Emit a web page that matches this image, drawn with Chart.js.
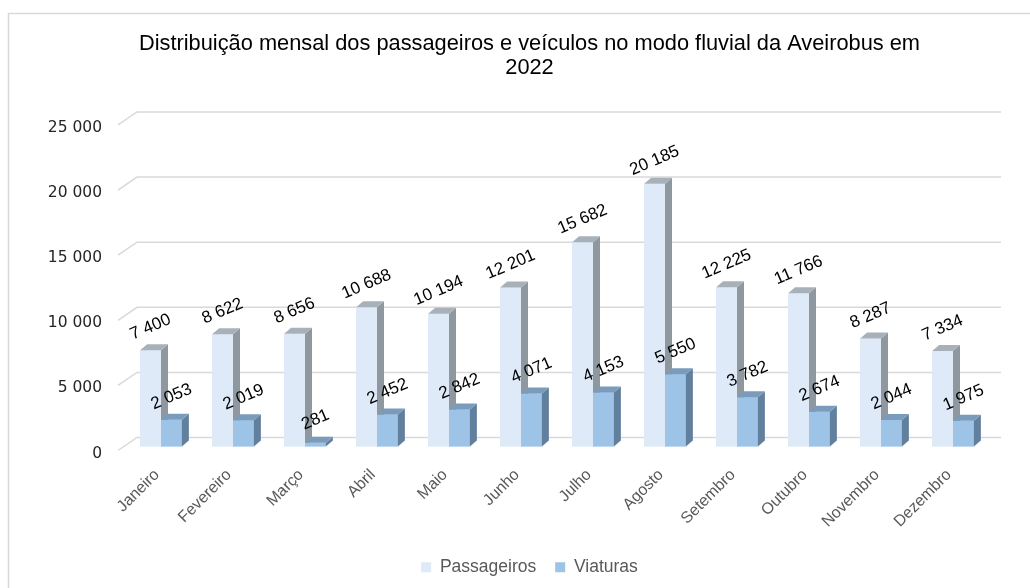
<!DOCTYPE html>
<html>
<head>
<meta charset="utf-8">
<script src="https://cdn.jsdelivr.net/npm/chart.js@4"></script>
<style>
  html, body { margin: 0; padding: 0; background: #fff; }
  #wrap { width: 1030px; height: 588px; }
</style>
</head>
<body>
<div id="wrap"><canvas id="chart"></canvas></div>
<script>
const meses = ['Janeiro', 'Fevereiro', 'Março', 'Abril', 'Maio', 'Junho', 'Julho', 'Agosto', 'Setembro', 'Outubro', 'Novembro', 'Dezembro'];
const passageiros = [7400, 8622, 8656, 10688, 10194, 12201, 15682, 20185, 12225, 11766, 8287, 7334];
const viaturas = [2053, 2019, 281, 2452, 2842, 4071, 4153, 5550, 3782, 2674, 2044, 1975];
const yTicks = [0, 5000, 10000, 15000, 20000, 25000];

// cores: frente, topo, lado
const corPass = ['#DEEAF8', '#A8B1BA', '#8F989F'];
const corViat = ['#9DC3E6', '#7A9BBB', '#61809E'];

const DX = 7, DY = -6; // profundidade das colunas

function fmt(v) {
  return String(v).replace(/\B(?=(\d{3})+(?!\d))/g, ' ');
}

function poly(ctx, pts, fill) {
  ctx.beginPath();
  ctx.moveTo(pts[0][0], pts[0][1]);
  for (let i = 1; i < pts.length; i++) ctx.lineTo(pts[i][0], pts[i][1]);
  ctx.closePath();
  ctx.fillStyle = fill;
  ctx.fill();
}

const fundo = {
  id: 'fundo',
  // titulo e legenda centrados na moldura original (mais larga que a janela)
  afterLayout(chart) {
    [chart.titleBlock, chart.legend].forEach(b => {
      b.left += 31;
      b.right += 31;
    });
  },
  beforeDraw(chart) {
    const ctx = chart.ctx;
    ctx.save();
    ctx.fillStyle = '#fff';
    ctx.fillRect(0, 0, chart.width, chart.height);
    ctx.strokeStyle = '#d9d9d9';
    ctx.lineWidth = 1.5;
    ctx.strokeRect(8.5, 13.5, 1200, 800);
    ctx.restore();
  },
  // grelha na parede de fundo
  beforeDatasetsDraw(chart) {
    const ctx = chart.ctx, y = chart.scales.y, area = chart.chartArea;
    ctx.save();
    ctx.strokeStyle = '#d9d9d9';
    ctx.lineWidth = 1.5;
    yTicks.forEach(v => {
      const py = y.getPixelForValue(v);
      ctx.beginPath();
      ctx.moveTo(area.left - 7, py + 4);
      ctx.lineTo(area.left + 12, py - 9);
      ctx.lineTo(area.right + 12, py - 9);
      ctx.stroke();
    });
    ctx.restore();
  }
};

const colunas3d = {
  id: 'colunas3d',
  afterDatasetsDraw(chart) {
    const ctx = chart.ctx;
    const mp = chart.getDatasetMeta(0).data;
    const mv = chart.getDatasetMeta(1).data;
    ctx.save();
    for (let i = 0; i < mp.length; i++) {
      [[mp[i], corPass], [mv[i], corViat]].forEach(([b, c]) => {
        const p = b.getProps(['x', 'y', 'base', 'width'], true);
        const xl = p.x - p.width / 2, xr = p.x + p.width / 2;
        ctx.fillStyle = c[0];
        ctx.fillRect(xl, p.y, p.width, p.base - p.y);
        poly(ctx, [[xr, p.y], [xr + DX, p.y + DY], [xr + DX, p.base + DY], [xr, p.base]], c[2]);
        poly(ctx, [[xl, p.y], [xl + DX, p.y + DY], [xr + DX, p.y + DY], [xr, p.y]], c[1]);
      });
    }
    // rótulos de dados
    ctx.fillStyle = '#000';
    ctx.font = '17px "Liberation Sans", Arial, sans-serif';
    ctx.textAlign = 'center';
    ctx.textBaseline = 'middle';
    [[mp, passageiros], [mv, viaturas]].forEach(([els, vals]) => {
      els.forEach((b, i) => {
        const p = b.getProps(['x', 'y'], true);
        ctx.save();
        ctx.translate(p.x, p.y - 23);
        ctx.rotate(-23 * Math.PI / 180);
        ctx.fillText(fmt(vals[i]), 0, 0);
        ctx.restore();
      });
    });
    ctx.restore();
  }
};

new Chart(document.getElementById('chart'), {
  type: 'bar',
  data: {
    labels: meses,
    datasets: [
      { label: 'Passageiros', data: passageiros, backgroundColor: corPass[0] },
      { label: 'Viaturas', data: viaturas, backgroundColor: corViat[0] }
    ]
  },
  options: {
    responsive: true,
    maintainAspectRatio: false,
    animation: false,
    devicePixelRatio: 1,
    layout: { padding: { left: 8, right: 41, top: 0, bottom: 2 } },
    categoryPercentage: 0.58,
    barPercentage: 1,
    scales: {
      x: {
        grid: { display: false, drawTicks: false },
        border: { display: false },
        ticks: {
          color: '#595959',
          font: { family: '"Liberation Sans", Arial, sans-serif', size: 16 },
          minRotation: 45,
          maxRotation: 45,
          padding: 19,
          labelOffset: -4
        },
        afterFit(scale) { scale.height = 93; }
      },
      y: {
        min: 0,
        max: 25000,
        afterBuildTicks(scale) { scale.ticks = yTicks.map(v => ({ value: v })); },
        grid: { display: false, drawTicks: false },
        border: { display: false },
        ticks: {
          color: '#262626',
          font: { family: '"DejaVu Sans", sans-serif', size: 15.5 },
          padding: 23,
          labelOffset: 7,
          callback: v => fmt(v)
        },
        afterFit(scale) { scale.width = 117; }
      }
    },
    plugins: {
      title: {
        display: true,
        text: ['Distribuição mensal dos passageiros e veículos no modo fluvial da Aveirobus em', '2022'],
        color: '#000',
        font: { family: '"Liberation Sans", Arial, sans-serif', size: 21.8, weight: 'normal', lineHeight: 1.1 },
        padding: { top: 32, bottom: 41 }
      },
      legend: {
        position: 'bottom',
        labels: {
          color: '#595959',
          font: { family: '"Liberation Sans", Arial, sans-serif', size: 17.5 },
          boxWidth: 10,
          boxHeight: 10,
          padding: 19
        }
      },
      tooltip: { enabled: false }
    }
  },
  plugins: [fundo, colunas3d]
});
</script>
</body>
</html>
